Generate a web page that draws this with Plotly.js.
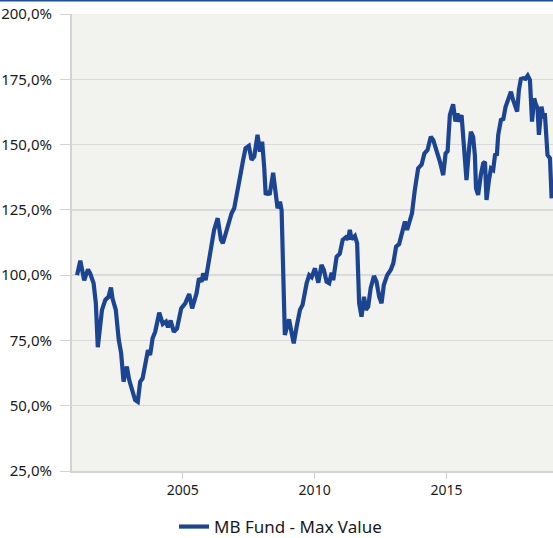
<!DOCTYPE html>
<html>
<head>
<meta charset="utf-8">
<script src="https://cdn.plot.ly/plotly-3.0.1.min.js"></script>
<style>
  html, body { margin: 0; padding: 0; background: #ffffff; }
  #chart { width: 553px; height: 538px; }
</style>
</head>
<body>
<div id="chart"></div>
<script>
const seriesName = "MB Fund - Max Value";

const dates = [
  "2001-01-01","2001-02-15","2001-04-10","2001-06-01","2001-07-01","2001-08-18","2001-09-18","2001-10-15",
  "2001-12-12","2002-01-27","2002-03-12","2002-04-15","2002-05-06","2002-06-21","2002-08-01","2002-09-03",
  "2002-10-06","2002-11-21","2002-12-24","2003-02-01","2003-03-15","2003-04-21","2003-05-24","2003-06-27",
  "2003-08-01","2003-09-09","2003-10-09","2003-11-12","2003-12-18","2004-02-12","2004-04-01","2004-05-15",
  "2004-06-12","2004-07-18","2004-09-01","2004-10-15","2004-12-12","2005-02-06","2005-04-01","2005-05-12",
  "2005-07-12","2005-08-15","2005-09-21","2005-10-12","2005-11-15","2005-12-21","2006-02-06","2006-03-12",
  "2006-05-01","2006-06-15","2006-07-12","2006-09-01","2006-11-09","2006-12-15","2007-02-01","2007-03-15",
  "2007-04-18","2007-05-21","2007-07-06","2007-08-12","2007-09-18","2007-11-03","2007-12-06","2008-01-06",
  "2008-02-03","2008-02-24","2008-03-21","2008-04-18","2008-06-06","2008-07-09","2008-08-06","2008-09-09",
  "2008-10-01","2008-11-15","2009-01-12","2009-02-18","2009-03-18","2009-04-27","2009-06-12","2009-07-18",
  "2009-09-12","2009-10-18","2009-11-21","2010-01-06","2010-02-01","2010-02-21","2010-04-06","2010-05-09",
  "2010-06-15","2010-07-21","2010-08-24","2010-09-15","2010-11-01","2010-12-15","2011-01-24","2011-03-09",
  "2011-04-09","2011-05-03","2011-05-27","2011-07-12","2011-08-12","2011-09-09","2011-10-12","2011-11-15",
  "2011-12-12","2012-01-12","2012-02-15","2012-04-01","2012-05-06","2012-06-12","2012-07-15","2012-08-15",
  "2012-10-01","2012-11-18","2012-12-24","2013-02-01","2013-03-15","2013-04-18","2013-06-03","2013-07-03",
  "2013-08-12","2013-09-09","2013-10-18","2013-11-10","2013-12-03","2014-01-21","2014-02-27","2014-04-12",
  "2014-05-27","2014-07-01","2014-08-15","2014-10-01","2014-11-15","2014-12-18","2015-01-15","2015-02-15",
  "2015-04-01","2015-05-03","2015-06-01","2015-06-18","2015-07-27","2015-08-18","2015-09-12","2015-10-03",
  "2015-11-06","2015-12-03","2016-01-03","2016-01-27","2016-02-12","2016-03-12","2016-04-18","2016-05-21",
  "2016-06-15","2016-07-06","2016-08-09","2016-09-06","2016-10-06","2016-11-01","2016-11-27","2016-12-15",
  "2017-01-21","2017-02-24","2017-03-27","2017-05-12","2017-06-09","2017-07-09","2017-08-12","2017-09-03",
  "2017-09-27","2017-10-24","2017-11-27","2017-12-27","2018-01-27","2018-02-27","2018-03-28","2018-04-27",
  "2018-05-15","2018-06-12","2018-07-01","2018-08-06","2018-09-01","2018-09-21","2018-10-28","2018-12-01",
  "2018-12-24"
];

const values = [
  100.0,105.5,98.0,102.2,100.7,96.9,89.2,72.4,
  86.7,90.5,91.7,95.3,91.1,86.7,75.2,70.1,
  59.2,65.0,59.8,56.0,52.2,51.5,59.2,60.5,
  66.2,71.3,69.4,75.8,78.3,85.6,81.3,82.2,
  80.0,82.6,78.3,79.6,87.3,89.2,92.8,87.3,
  93.0,98.8,97.5,100.7,98.1,104.5,110.9,117.3,
  121.8,113.5,112.2,117.3,123.7,125.6,133.9,139.0,
  144.1,148.6,149.5,144.1,145.4,153.7,147.3,151.1,
  141.5,130.7,132.0,130.7,139.2,131.3,125.6,128.1,
  124.9,77.1,83.1,77.7,73.9,80.3,86.7,88.6,
  96.9,100.0,99.2,102.6,98.1,97.1,103.9,102.0,
  97.5,96.9,100.9,98.1,107.0,108.2,113.5,114.5,
  113.7,117.3,113.7,115.0,112.2,89.2,84.1,91.7,
  86.7,87.9,95.0,99.7,97.5,91.7,89.2,96.2,
  100.0,102.0,104.5,110.9,111.9,115.4,120.5,117.3,
  121.1,123.7,132.6,135.8,140.9,142.4,146.6,147.9,
  153.0,151.7,147.9,143.4,138.3,146.6,147.5,161.3,
  165.4,158.8,162.0,158.8,161.3,154.3,147.3,136.4,
  147.9,154.9,153.0,146.0,133.2,130.7,138.3,142.8,
  143.4,128.8,136.4,140.9,140.3,146.0,146.3,153.7,
  159.4,159.8,164.5,167.7,170.2,167.1,163.9,162.6,
  170.9,175.1,175.4,175.2,176.4,174.7,158.8,167.7,
  165.8,163.9,153.7,164.5,160.1,162.0,146.0,144.8,
  129.4
];

const yTickValues = [25, 50, 75, 100, 125, 150, 175, 200];
const yTickLabels = ["25,0%", "50,0%", "75,0%", "100,0%", "125,0%", "150,0%", "175,0%", "200,0%"];
const xTickValues = ["2005-01-01", "2010-01-01", "2015-01-01"];
const xTickLabels = ["2005", "2010", "2015"];

const W = 553, H = 538;
const margin = { l: 72, r: 0, t: 14, b: 67, pad: 0, autoexpand: false };
const plotW = W - margin.l - margin.r;
const plotH = H - margin.t - margin.b;

const trace = {
  type: "scatter",
  mode: "lines",
  x: dates,
  y: values,
  name: seriesName,
  line: { color: "#1b4592", width: 4.2, shape: "linear" },
  hoverinfo: "skip"
};

const layout = {
  width: W,
  height: H,
  margin: margin,
  paper_bgcolor: "#ffffff",
  plot_bgcolor: "#f2f2ef",
  separators: ",.",
  font: { family: "'Noto Sans', 'DejaVu Sans', sans-serif", size: 14, color: "#1a1a1a" },
  showlegend: true,
  legend: {
    orientation: "h",
    x: (174 - margin.l) / plotW,
    xanchor: "left",
    y: -(527 - (H - margin.b)) / plotH,
    yanchor: "middle",
    font: { size: 17, color: "#1a1a1a" },
    bgcolor: "rgba(0,0,0,0)"
  },
  xaxis: {
    type: "date",
    range: ["2000-10-23", "2019-01-12"],
    tickmode: "array",
    tickvals: xTickValues,
    ticktext: xTickLabels,
    ticks: "outside",
    ticklen: 6,
    tickwidth: 1,
    tickcolor: "#cfcfcf",
    showgrid: false,
    zeroline: false,
    showline: true,
    linecolor: "#d3d3d3",
    linewidth: 1.5,
    tickfont: { size: 14, color: "#1a1a1a" },
    fixedrange: true
  },
  yaxis: {
    range: [25, 200],
    tickmode: "array",
    tickvals: yTickValues,
    ticktext: yTickLabels,
    ticks: "outside",
    ticklen: 10,
    tickwidth: 1,
    tickcolor: "#d3d3d3",
    ticklabelstandoff: 5,
    showgrid: true,
    gridcolor: "#dadada",
    gridwidth: 1.5,
    zeroline: false,
    showline: true,
    linecolor: "#d3d3d3",
    linewidth: 2,
    tickfont: { size: 15, color: "#1a1a1a" },
    fixedrange: true
  },
  shapes: [{
    type: "line",
    xref: "paper",
    yref: "paper",
    x0: -margin.l / plotW,
    x1: 1 + margin.r / plotW,
    y0: 1 + (margin.t - 0.75) / plotH,
    y1: 1 + (margin.t - 0.75) / plotH,
    line: { color: "#1f4e9c", width: 1.5 }
  }]
};

Plotly.newPlot("chart", [trace], layout, { staticPlot: true, displayModeBar: false });
</script>
</body>
</html>
